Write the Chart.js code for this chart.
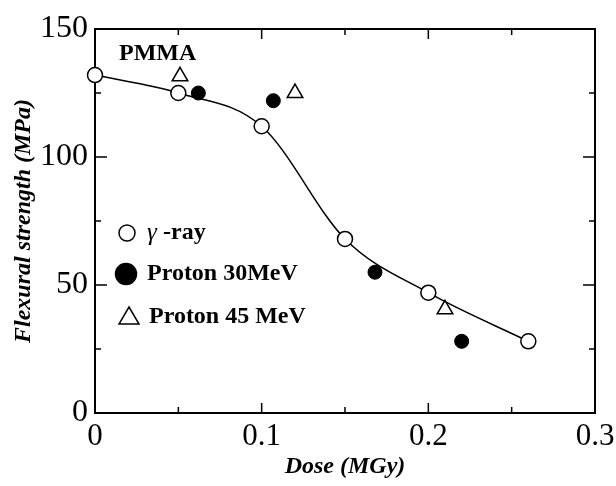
<!DOCTYPE html>
<html>
<head>
<meta charset="utf-8">
<script src="https://cdn.jsdelivr.net/npm/chart.js@4/dist/chart.umd.min.js"></script>
<style>
  body { margin: 0; background: #fff; }
  canvas { display: block; }
</style>
</head>
<body>
<canvas id="chart" width="616" height="486"></canvas>
<script>
// gamma-ray (open circles, with the fitted curve)
const gammaDose = [0, 0.05, 0.1, 0.15, 0.2, 0.26];
const gammaStrength = [132, 125, 112, 68, 47, 28];
// proton 30 MeV (filled circles)
const p30Dose = [0.062, 0.107, 0.168, 0.22];
const p30Strength = [125, 122, 55, 28];
// proton 45 MeV (open triangles)
const p45Dose = [0.051, 0.12, 0.21];
const p45Strength = [131.5, 125, 40.5];

const seriesLabels = ["γ -ray", "Proton 30MeV", "Proton 45 MeV"];
const xTickLabels = [0, 0.1, 0.2, 0.3];
const yTickLabels = [0, 50, 100, 150];

const SERIF = "'Liberation Serif', 'Times New Roman', serif";

const toPoints = (xs, ys) => xs.map((x, i) => ({ x, y: ys[i] }));
const isLabelled = (list, v) => list.some((t) => Math.abs(t - v) < 1e-6);

// Box round the plot with inward ticks on all four sides
const frameTicks = {
  id: "frameTicks",
  beforeDatasetsDraw(chart) {
    const { ctx, chartArea: a, scales } = chart;
    ctx.save();
    ctx.strokeStyle = "#000";
    ctx.lineWidth = 2;
    ctx.strokeRect(a.left, a.top, a.right - a.left, a.bottom - a.top);
    ctx.lineWidth = 1.5;
    ctx.beginPath();
    scales.x.ticks.forEach((t) => {
      const px = scales.x.getPixelForValue(t.value);
      if (px <= a.left + 1 || px >= a.right - 1) return;
      const len = isLabelled(xTickLabels, t.value) ? 10 : 6;
      ctx.moveTo(px, a.bottom);
      ctx.lineTo(px, a.bottom - len);
      ctx.moveTo(px, a.top);
      ctx.lineTo(px, a.top + len);
    });
    scales.y.ticks.forEach((t) => {
      const py = scales.y.getPixelForValue(t.value);
      if (py <= a.top + 1 || py >= a.bottom - 1) return;
      const len = isLabelled(yTickLabels, t.value) ? 12 : 6;
      ctx.moveTo(a.left, py);
      ctx.lineTo(a.left + len, py);
      ctx.moveTo(a.right, py);
      ctx.lineTo(a.right - len, py);
    });
    ctx.stroke();
    ctx.restore();
  }
};

// Legend and sample name inside the plot
const notes = {
  id: "notes",
  afterDraw(chart) {
    const { ctx } = chart;
    ctx.save();
    ctx.fillStyle = "#000";
    ctx.textBaseline = "middle";
    ctx.font = "bold 24px " + SERIF;
    ctx.fillText("PMMA", 119, 54);

    const rows = [
      { x: 127, y: 233, tx: 147 },
      { x: 126, y: 274, tx: 147 },
      { x: 129, y: 317, tx: 149 }
    ];
    chart.data.datasets.forEach((ds, i) => {
      const r = rows[i];
      ctx.lineWidth = 1.5;
      ctx.strokeStyle = "#000";
      ctx.fillStyle = ds.pointBackgroundColor;
      ctx.beginPath();
      if (ds.pointStyle === "triangle") {
        ctx.moveTo(r.x, r.y - 10);
        ctx.lineTo(r.x + 10, r.y + 7);
        ctx.lineTo(r.x - 10, r.y + 7);
        ctx.closePath();
      } else {
        ctx.arc(r.x, r.y, i === 1 ? 10.5 : 8, 0, Math.PI * 2);
      }
      ctx.fill();
      ctx.stroke();

      ctx.fillStyle = "#000";
      let label = ds.label;
      let x = r.tx;
      if (label.startsWith("γ")) {
        ctx.font = "italic 25px " + SERIF;
        ctx.fillText("γ", x, r.y);
        x += ctx.measureText("γ ").width;
        label = label.slice(2);
      }
      ctx.font = "bold 24px " + SERIF;
      ctx.fillText(label, x, r.y);
    });
    ctx.restore();
  }
};

new Chart(document.getElementById("chart"), {
  type: "scatter",
  data: {
    datasets: [
      {
        label: seriesLabels[0],
        data: toPoints(gammaDose, gammaStrength),
        showLine: true,
        cubicInterpolationMode: "monotone",
        borderColor: "#000",
        borderWidth: 1.5,
        pointStyle: "circle",
        pointRadius: 7.5,
        pointBackgroundColor: "#fff",
        pointBorderColor: "#000",
        pointBorderWidth: 1.5,
        clip: false
      },
      {
        label: seriesLabels[1],
        data: toPoints(p30Dose, p30Strength),
        pointStyle: "circle",
        pointRadius: 7,
        pointBackgroundColor: "#000",
        pointBorderColor: "#000",
        pointBorderWidth: 1,
        clip: false
      },
      {
        label: seriesLabels[2],
        data: toPoints(p45Dose, p45Strength),
        pointStyle: "triangle",
        pointRadius: 9,
        pointBackgroundColor: "#fff",
        pointBorderColor: "#000",
        pointBorderWidth: 1.5,
        clip: false
      }
    ]
  },
  options: {
    responsive: false,
    animation: false,
    layout: { padding: { top: 29, right: 21, left: 0, bottom: 0 } },
    plugins: {
      legend: { display: false },
      tooltip: { enabled: false }
    },
    scales: {
      x: {
        type: "linear",
        min: 0,
        max: 0.3,
        grid: { display: false, drawTicks: false },
        border: { display: false },
        afterFit: (scale) => {
          scale.height = 73;
          scale.paddingLeft = 0;
          scale.paddingRight = 0;
        },
        ticks: {
          stepSize: 0.05,
          padding: 5,
          color: "#000",
          font: { family: SERIF, size: 31 },
          maxRotation: 0,
          autoSkip: false,
          callback: (v) => isLabelled(xTickLabels, v) ? String(Math.round(v * 10) / 10) : ""
        },
        title: {
          display: true,
          text: "Dose (MGy)",
          color: "#000",
          font: { family: SERIF, size: 24, weight: "bold", style: "italic" },
          padding: { top: 0, bottom: 5 }
        }
      },
      y: {
        min: 0,
        max: 150,
        grid: { display: false, drawTicks: false },
        border: { display: false },
        afterFit: (scale) => { scale.width = 95; },
        ticks: {
          stepSize: 25,
          padding: 7,
          color: "#000",
          font: { family: SERIF, size: 32 },
          autoSkip: false,
          callback: (v) => isLabelled(yTickLabels, v) ? String(v) : ""
        },
        title: {
          display: true,
          text: "Flexural strength (MPa)",
          color: "#000",
          font: { family: SERIF, size: 24, weight: "bold", style: "italic" },
          padding: { top: 9, bottom: 0 }
        }
      }
    }
  },
  plugins: [frameTicks, notes]
});
</script>
</body>
</html>
